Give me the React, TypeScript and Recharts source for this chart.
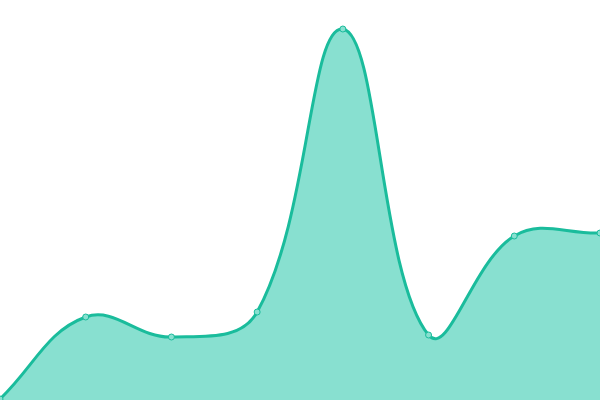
import React from "react";
import { AreaChart, Area, XAxis, YAxis } from "recharts";

const categories = ["A", "B", "C", "D", "E", "F", "G", "H"];
const values = [1, 83, 63, 88, 371, 65, 164, 167];

const data = categories.map((name, i) => ({ name, value: values[i] }));

const TENSION = 0.4;
const AREA_W = 600;
const AREA_H = 400;

function splineCurveFactory(context: any) {
  let xs: number[] = [];
  let ys: number[] = [];
  let line = NaN;
  const clamp = (v: number, lo: number, hi: number) => Math.max(lo, Math.min(hi, v));
  return {
    areaStart() {
      line = 0;
    },
    areaEnd() {
      line = NaN;
    },
    lineStart() {
      xs = [];
      ys = [];
    },
    lineEnd() {
      const n = xs.length;
      if (n) {
        if (line) context.lineTo(xs[0], ys[0]);
        else context.moveTo(xs[0], ys[0]);
        const cps: { px: number; py: number; nx: number; ny: number }[] = [];
        for (let i = 0; i < n; i++) {
          const pi = Math.max(0, i - 1);
          const ni = Math.min(n - 1, i + 1);
          const d01 = Math.hypot(xs[i] - xs[pi], ys[i] - ys[pi]);
          const d12 = Math.hypot(xs[ni] - xs[i], ys[ni] - ys[i]);
          let s01 = d01 / (d01 + d12);
          let s12 = d12 / (d01 + d12);
          if (isNaN(s01)) s01 = 0;
          if (isNaN(s12)) s12 = 0;
          const fa = TENSION * s01;
          const fb = TENSION * s12;
          const dx = xs[ni] - xs[pi];
          const dy = ys[ni] - ys[pi];
          cps.push({
            px: clamp(xs[i] - fa * dx, 0, AREA_W),
            py: clamp(ys[i] - fa * dy, 0, AREA_H),
            nx: clamp(xs[i] + fb * dx, 0, AREA_W),
            ny: clamp(ys[i] + fb * dy, 0, AREA_H),
          });
        }
        for (let i = 0; i < n - 1; i++) {
          context.bezierCurveTo(cps[i].nx, cps[i].ny, cps[i + 1].px, cps[i + 1].py, xs[i + 1], ys[i + 1]);
        }
      }
      if (line || (line !== 0 && n === 1)) context.closePath();
      line = 1 - line;
    },
    point(x: number, y: number) {
      xs.push(+x);
      ys.push(+y);
    },
  };
}

export default function App() {
  return (
    <div style={{ position: "absolute", left: 0, top: 0, width: 600, height: 400, background: "#fff" }}>
      <AreaChart width={600} height={400} data={data} margin={{ top: 0, right: 0, bottom: 0, left: 0 }}>
        <XAxis dataKey="name" hide padding={{ left: 0, right: 0 }} />
        <YAxis hide domain={[0, 400]} />
        <Area
          type={splineCurveFactory as any}
          dataKey="value"
          stroke="#1abc9c"
          strokeWidth={3}
          fill="#88e0d0"
          fillOpacity={1}
          dot={{ r: 3, fill: "#88e0d0", stroke: "#1abc9c", strokeWidth: 1 }}
          activeDot={false}
          isAnimationActive={false}
        />
      </AreaChart>
    </div>
  );
}
